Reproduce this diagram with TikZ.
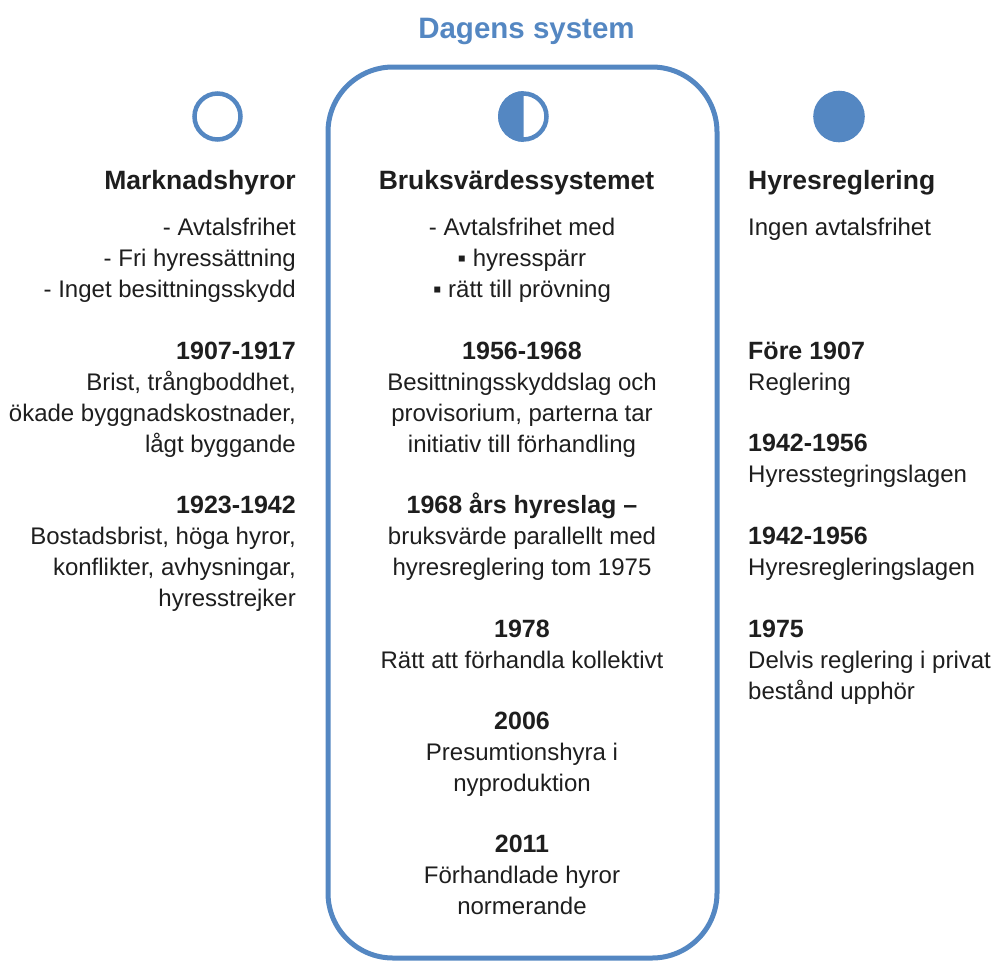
\documentclass[tikz,border=0pt]{standalone}
\usepackage{fontspec}
\setmainfont{Liberation Sans}
\definecolor{bl}{RGB}{84,135,194}
\definecolor{tx}{RGB}{30,30,30}
\newcommand\fl{\rule{0pt}{22pt}}
\newcommand\bd[1]{{\fontsize{25}{31}\selectfont\bfseries #1}}
\tikzset{
  body/.style={inner sep=0pt, text=tx, font=\fontsize{24}{31}\selectfont},
  head/.style={inner sep=0pt, text=tx, font=\fontsize{26.5}{31}\selectfont\bfseries},
  lcol/.style={body, anchor=north east, align=right},
  ccol/.style={body, anchor=north, align=center},
  rcol/.style={body, anchor=north west, align=left},
}
\begin{document}
\begin{tikzpicture}[x=1pt,y=-1pt]
\useasboundingbox (0,0) rectangle (992,961);
% title and box
\node[inner sep=0pt, anchor=base, text=bl, font=\fontsize{29.5}{31}\selectfont\bfseries] (title) at (526.5,38) {Dagens system};
\draw[bl, line width=5pt, rounded corners=65pt] (328,67) rectangle (717,958);
% circles
\node[circle, draw=bl, line width=4.5pt, minimum size=46pt, inner sep=0pt] (oL) at (217.5,116.5) {};
\fill[bl] (523.5,91) arc[start angle=90, end angle=270, radius=25.5pt] -- cycle;
\node[circle, draw=bl, line width=4.5pt, minimum size=46pt, inner sep=0pt] (oC) at (523.5,116.5) {};
\node[circle, fill=bl, minimum size=51.6pt, inner sep=0pt] (oR) at (839,116.5) {};
% headings
\node[head, anchor=base east] (hL) at (296,189) {Marknadshyror};
\node[head, anchor=base] (hC) at (516.5,189) {Bruksvärdessystemet};
\node[head, anchor=base west] (hR) at (748,189) {Hyresreglering};
% left column
\node[lcol] (l1) at (296,213) {\fl- Avtalsfrihet\\- Fri hyressättning\\- Inget besittningsskydd};
\node[lcol] (l2) at (296,337) {\fl\bd{1907-1917}\\Brist, trångboddhet,\\ökade byggnadskostnader,\\lågt byggande};
\node[lcol] (l3) at (296,491) {\fl\bd{1923-1942}\\Bostadsbrist, höga hyror,\\konflikter, avhysningar,\\hyresstrejker};
% centre column
\node[ccol] (c1) at (522,213) {\fl- Avtalsfrihet med\\▪ hyresspärr\\▪ rätt till prövning};
\node[ccol] (c2) at (522,337) {\fl\bd{1956-1968}\\Besittningsskyddslag och\\provisorium, parterna tar\\initiativ till förhandling};
\node[ccol] (c3) at (522,491) {\fl\bd{1968 års hyreslag –}\\bruksvärde parallellt med\\hyresreglering tom 1975};
\node[ccol] (c4) at (522,615) {\fl\bd{1978}\\Rätt att förhandla kollektivt};
\node[ccol] (c5) at (522,707) {\fl\bd{2006}\\Presumtionshyra i\\nyproduktion};
\node[ccol] (c6) at (522,830) {\fl\bd{2011}\\Förhandlade hyror\\normerande};
% right column
\node[rcol] (r1) at (748,213) {\fl Ingen avtalsfrihet};
\node[rcol] (r2) at (748,337) {\fl\bd{Före 1907}\\Reglering};
\node[rcol] (r3) at (748,429) {\fl\bd{1942-1956}\\Hyresstegringslagen};
\node[rcol] (r4) at (748,522) {\fl\bd{1942-1956}\\Hyresregleringslagen};
\node[rcol] (r5) at (748,615) {\fl\bd{1975}\\Delvis reglering i privat\\bestånd upphör};
\end{tikzpicture}
\end{document}
